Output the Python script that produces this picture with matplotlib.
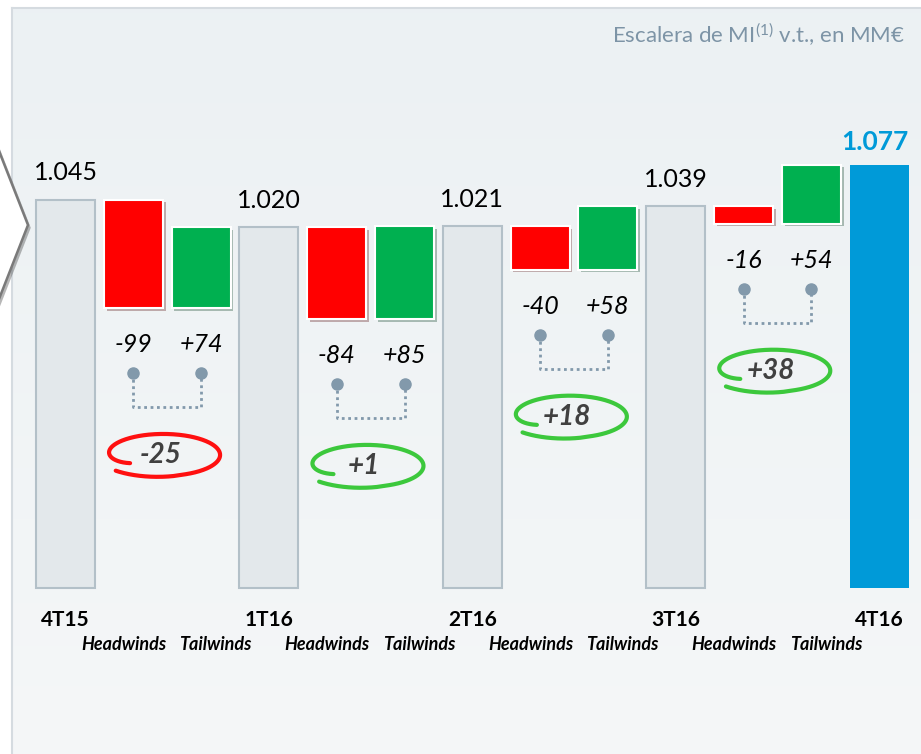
import numpy as np
import matplotlib
matplotlib.use("Agg")
import matplotlib.pyplot as plt
import matplotlib.patheffects as pe
from matplotlib.patches import Polygon

plt.rcParams["font.family"] = ["Lato", "DejaVu Sans"]
plt.rcParams["mathtext.fontset"] = "custom"
plt.rcParams["mathtext.rm"] = "Lato"
plt.rcParams["mathtext.it"] = "Lato:italic"

# --- data -------------------------------------------------------------
periods = ["4T15", "1T16", "2T16", "3T16", "4T16"]
totals = [1045, 1020, 1021, 1039, 1077]
headwinds = [-99, -84, -40, -16]
tailwinds = [74, 85, 58, 54]
title = "Escalera de MI$^{(1)}$ v.t., en MM€"

GRAY = "#e3e8eb"
GRAY_EDGE = "#b3c0c8"
RED = "#ff0000"
GREEN = "#00b050"
BLUE = "#009ad8"
DOT = "#8299ab"
CIRCLE_RED = "#ff1010"
CIRCLE_GREEN = "#3cc83c"

W, H = 921, 754
fig = plt.figure(figsize=(W / 100, H / 100), dpi=100)

# background panel (pixel coordinates)
bg = fig.add_axes([0, 0, 1, 1])
bg.set_xlim(0, W)
bg.set_ylim(H, 0)
bg.axis("off")
grad = np.linspace(0, 1, 256)[:, None]
top_c = np.array([0.925, 0.945, 0.953])
bot_c = np.array([0.960, 0.968, 0.972])
img = top_c + (bot_c - top_c) * grad[..., None]
bg.imshow(img, extent=(12, W, H, 8), aspect="auto", zorder=0)
bg.plot([12, W], [8, 8], color="#d5dbe0", lw=1.5, zorder=1)
bg.plot([12, 12], [8, H], color="#d5dbe0", lw=1.5, zorder=1)
chev = Polygon([(-10, 128), (28, 225), (-10, 322)], closed=True, facecolor="white",
               edgecolor="#7a7a7a", lw=1.8, zorder=2,
               path_effects=[pe.SimplePatchShadow(offset=(2, -2), alpha=0.4), pe.Normal()])
bg.add_patch(chev)
bg.text(905, 35, title, ha="right", va="center", fontsize=16, color="#7d94a6")

# --- chart axes -------------------------------------------------------
ax = fig.add_axes([0, 0, 1, 1])
ax.patch.set_visible(False)
ax.axis("off")
px_x = 67.8                       # pixels per slot
px_y = 1.094                      # pixels per MM€
base = 690
x0 = 65.5 / px_x
ax.set_xlim(-x0, (W - 65.5) / px_x)
ax.set_ylim(base - (H - 588) / px_y, base + 588 / px_y)

bw = 0.87
shadow = [pe.SimplePatchShadow(offset=(2, -2), alpha=0.3), pe.Normal()]
du = 1 / px_y                     # one pixel in data units (y)

for k, (p, v) in enumerate(zip(periods, totals)):
    xi = 3 * k
    last = k == len(periods) - 1
    ax.bar(xi, v - base, bottom=base, width=bw, color=BLUE if last else GRAY,
           edgecolor=BLUE if last else GRAY_EDGE, lw=0 if last else 1.5, zorder=3)
    ax.annotate(f"{v:,}".replace(",", "."), (xi - (0.06 if last else 0), v),
                xytext=(0, 8 if last else 11),
                textcoords="offset points", ha="center", va="bottom",
                fontsize=19 if last else 18, color=BLUE if last else "black",
                fontweight="bold" if last else "normal", zorder=5)
    ax.text(xi, base - 32 * du, p, ha="center", va="center", fontsize=15,
            fontweight="bold", zorder=5)

for k, (hw, tw) in enumerate(zip(headwinds, tailwinds)):
    start = totals[k]
    xr, xg = 3 * k + 1, 3 * k + 2
    low = start + hw
    ax.bar(xr, -hw, bottom=low, width=bw, color=RED, edgecolor="white", lw=1.5,
           zorder=3, path_effects=shadow)
    ax.bar(xg, tw, bottom=low, width=bw, color=GREEN, edgecolor="white", lw=1.5,
           zorder=3, path_effects=shadow)

    lab_y = low - 37 * du
    dot_y = low - 65 * du
    brk_y = low - 99 * du
    ell_y = low - 147 * du
    ax.text(xr, lab_y, f"{hw:+d}", ha="center", va="center", fontsize=18,
            style="italic", zorder=5)
    ax.text(xg, lab_y, f"{tw:+d}", ha="center", va="center", fontsize=18,
            style="italic", zorder=5)
    ax.plot([xr, xr, xg, xg], [dot_y, brk_y, brk_y, dot_y], ls=(0, (1, 1.3)),
            color=DOT, lw=2, zorder=4)
    ax.plot([xr, xg], [dot_y, dot_y], ls="none", marker="o", ms=8, color=DOT, zorder=4)

    # hand-drawn loop around the net figure: starts inside at lower left,
    # runs round clockwise and ends a little outside, below the start
    net = hw + tw
    xm = (xr + xg) / 2 - 0.06
    s = np.linspace(0, 1, 400)
    t = np.radians(214 - 352 * s)
    r = 1 - 0.3 * np.exp(-s / 0.06) + 0.12 * np.clip((s - 0.8) / 0.2, 0, 1)
    ex = xm + 0.84 * r * np.cos(t)
    ey = ell_y + 21 * du * r * np.sin(t)
    ax.plot(ex, ey, color=CIRCLE_RED if net < 0 else CIRCLE_GREEN, lw=3,
            solid_capstyle="round", zorder=4)
    ax.text(xm - 0.04, ell_y, f"{net:+d}", ha="center", va="center", fontsize=20,
            fontweight="bold", style="italic", color="#404040", zorder=5)

    mid = (xr + xg) / 2
    ax.text(mid - 0.01, base - 57 * du, "Headwinds", ha="right", va="center",
            fontsize=13, fontweight="bold", style="italic", zorder=5)
    ax.text(mid + 0.18, base - 57 * du, "Tailwinds", ha="left", va="center",
            fontsize=13, fontweight="bold", style="italic", zorder=5)

fig.savefig("out.png", dpi=100)
